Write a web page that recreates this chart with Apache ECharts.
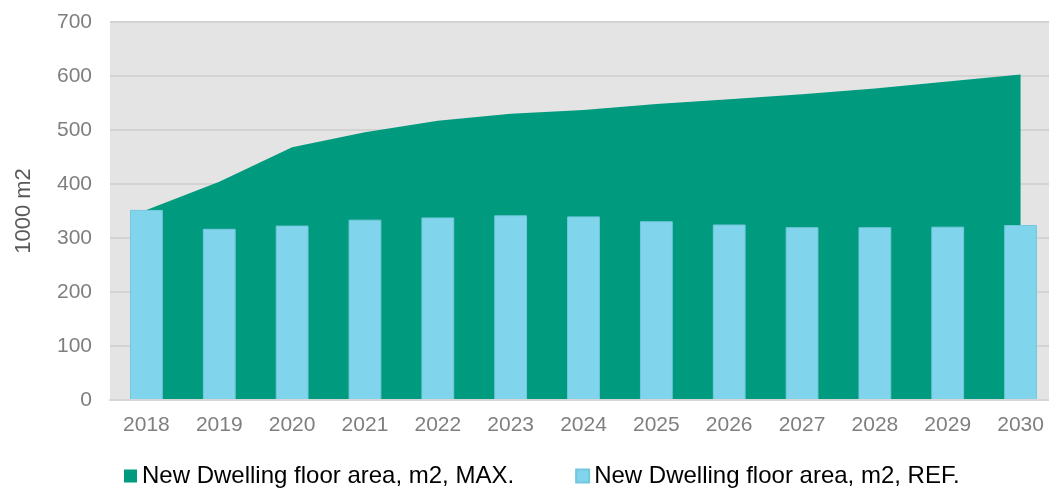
<!DOCTYPE html>
<html>
<head>
<meta charset="utf-8">
<script src="https://cdn.jsdelivr.net/npm/echarts@6/dist/echarts.min.js"></script>
<style>html,body{margin:0;padding:0;background:#fff;overflow:hidden;width:1049px;height:489px;}#c{width:1060px;height:489px;}</style>
</head>
<body>
<div id="c"></div>
<script>
const categories = ['2018','2019','2020','2021','2022','2023','2024','2025','2026','2027','2028','2029','2030'];
const maxValues = [352, 404, 468, 496, 517, 530, 537, 548, 557, 566, 577, 590, 603];
const refValues = [352, 317, 323, 334, 338, 342, 340, 331, 325, 320, 320, 321, 324];
const yTicks = [0, 100, 200, 300, 400, 500, 600, 700];
const seriesNames = ['New Dwelling floor area, m2, MAX.', 'New Dwelling floor area, m2, REF.'];

const chart = echarts.init(document.getElementById('c'), null, {renderer: 'canvas'});
const font = 'Liberation Sans, Arial, sans-serif';
chart.setOption({
  animation: false,
  textStyle: {fontFamily: font},
  grid: {left: 110, width: 947, top: 22, height: 378, show: true, backgroundColor: '#e4e4e4', borderWidth: 0},
  legend: {
    top: 459, left: 119,
    itemWidth: 13, itemHeight: 13, itemGap: 61,
    icon: 'rect',
    textStyle: {fontSize: 24, color: '#000', fontFamily: font},
    data: seriesNames
  },
  xAxis: {
    type: 'category', data: categories, boundaryGap: true,
    axisLine: {lineStyle: {color: '#d6d6d6', width: 2}},
    axisTick: {show: false},
    axisLabel: {color: '#7f7f7f', fontSize: 21, margin: 15, fontFamily: font},
    z: 10
  },
  yAxis: {
    type: 'value', min: yTicks[0], max: yTicks[yTicks.length - 1], interval: 100,
    name: '1000 m2', nameLocation: 'middle', nameGap: 75,
    nameTextStyle: {color: '#595959', fontSize: 22, fontFamily: font},
    axisLine: {show: false}, axisTick: {show: false},
    axisLabel: {color: '#7f7f7f', fontSize: 21, margin: 18, fontFamily: font},
    splitLine: {lineStyle: {color: '#d3d3d3', width: 2}}
  },
  series: [
    {
      name: seriesNames[0], type: 'line', data: maxValues,
      symbol: 'none', lineStyle: {width: 0, color: '#009a7f'},
      itemStyle: {color: '#009a7f'},
      areaStyle: {color: '#009a7f', opacity: 1}, z: 2
    },
    {
      name: seriesNames[1], type: 'bar', data: refValues,
      barWidth: '45%',
      itemStyle: {color: '#80d5ed', borderColor: '#74c8dc', borderWidth: 1}, z: 3
    }
  ]
});
</script>
</body>
</html>
